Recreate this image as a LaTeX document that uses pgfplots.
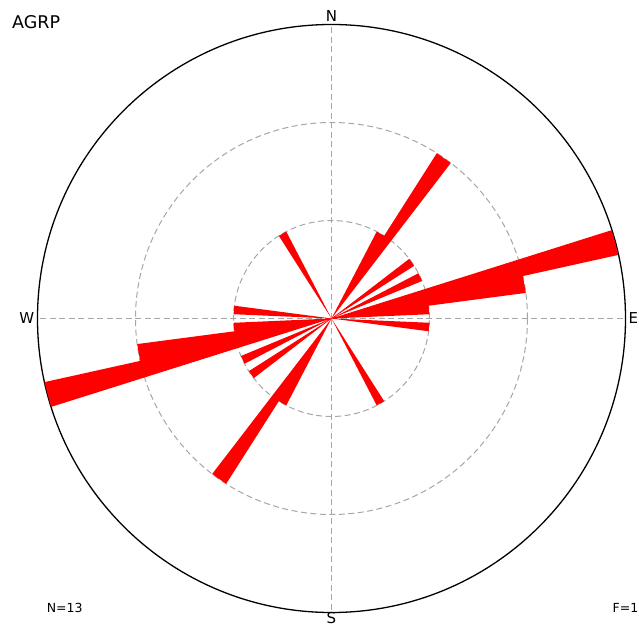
\documentclass[border=0pt]{standalone}
\usepackage{fontspec}
\setmainfont{DejaVu Sans}
\usepackage{pgfplots}
\pgfplotsset{compat=1.18}
\usepgfplotslibrary{polar}

\begin{document}
\begin{tikzpicture}
% fixed page frame around the rose centre
\path[use as bounding box] (-331.5pt,-309.5pt) rectangle (307.5pt,318.5pt);
\begin{polaraxis}[
  at={(0,0)}, anchor=center,
  width=588pt, height=588pt, scale only axis,
  ymin=0, ymax=3,
  xtick={0,90,180,270}, xticklabels={E,N,W,\raisebox{0pt}[8pt][0pt]{S}},
  ytick={1,2}, yticklabel=\empty,
  xmajorgrids, ymajorgrids,
  major grid style={draw=black!35, line width=1pt, dash pattern=on 6pt off 3.5pt},
  axis line style={black, line width=1.3pt},
  y axis line style={draw=none},
  tick style={draw=none},
  xticklabel style={font=\fontsize{15}{15}\selectfont, inner sep=3pt},
]
% petal outline, compass azimuth (deg) vs. count; bins 5 deg wide
\addplot[fill=red, draw=none, x filter/.expression={90-x}] coordinates {
  (0,0) (27.5,1) (32.5,1) (32.5,2) (37.5,2) (0,0)
  (52.5,1) (57.5,1) (0,0)
  (62.5,1) (67.5,1) (0,0)
  (72.5,3) (77.5,3) (77.5,2) (82.5,2) (82.5,1) (87.5,1) (0,0)
  (92.5,1) (97.5,1) (0,0)
  (147.5,1) (152.5,1) (0,0)
} -- cycle;
% opposite half of the axial rose
\addplot[fill=red, draw=none, x filter/.expression={270-x}] coordinates {
  (0,0) (27.5,1) (32.5,1) (32.5,2) (37.5,2) (0,0)
  (52.5,1) (57.5,1) (0,0)
  (62.5,1) (67.5,1) (0,0)
  (72.5,3) (77.5,3) (77.5,2) (82.5,2) (82.5,1) (87.5,1) (0,0)
  (92.5,1) (97.5,1) (0,0)
  (147.5,1) (152.5,1) (0,0)
} -- cycle;
\end{polaraxis}
\node[anchor=west, font=\fontsize{17.5}{17.5}\selectfont, inner sep=0pt] at (-319.5pt,296pt) {AGRP};
\node[anchor=center, font=\fontsize{12.5}{12.5}\selectfont, inner sep=0pt] at (-266.8pt,-289pt) {N=13};
\node[anchor=west, font=\fontsize{12.5}{12.5}\selectfont, inner sep=0pt] at (281pt,-289pt) {F=1};
\end{tikzpicture}
\end{document}
